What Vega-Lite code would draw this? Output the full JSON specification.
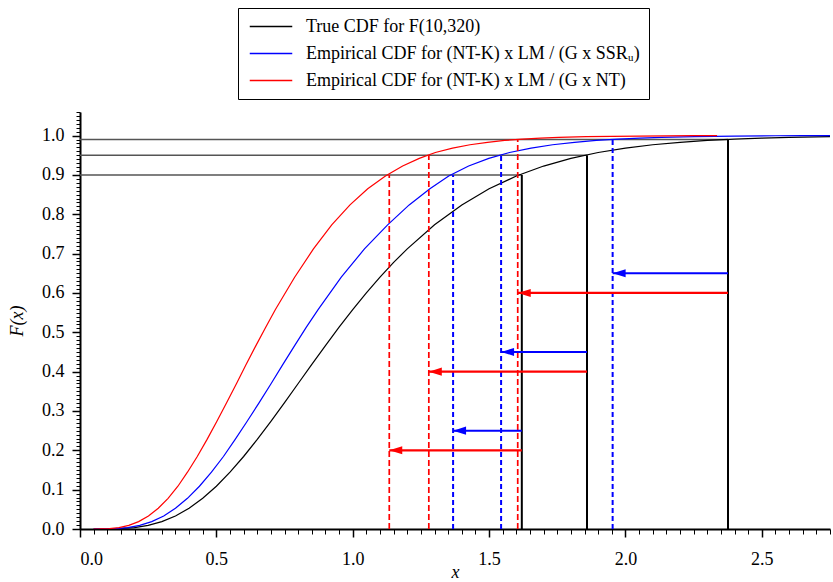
{
  "$schema": "https://vega.github.io/schema/vega-lite/v6.json",
  "width": 750,
  "height": 417,
  "autosize": {"type": "none"},
  "padding": {"left": 80, "top": 112, "right": 3, "bottom": 53},
  "background": "white",
  "config": {
    "font": "Liberation Serif",
    "view": {"stroke": null},
    "axis": {
      "grid": false,
      "domainColor": "black",
      "tickColor": "black",
      "labelColor": "black",
      "titleColor": "black",
      "labelFont": "Liberation Serif",
      "titleFont": "Liberation Serif",
      "labelFontSize": 18,
      "titleFontSize": 18,
      "titleFontWeight": "normal",
      "titleFontStyle": "italic"
    }
  },
  "datasets": {
    "curves": [
      {"s": "true", "x": 0.05, "p": 0}, {"s": "true", "x": 0.1, "p": 0.0002}, {"s": "true", "x": 0.15, "p": 0.0011}, {"s": "true", "x": 0.2, "p": 0.0037}, {"s": "true", "x": 0.25, "p": 0.0092}, {"s": "true", "x": 0.3, "p": 0.0187}, {"s": "true", "x": 0.35, "p": 0.033}, {"s": "true", "x": 0.4, "p": 0.0528}, {"s": "true", "x": 0.45, "p": 0.078}, {"s": "true", "x": 0.5, "p": 0.1087}, {"s": "true", "x": 0.55, "p": 0.1444}, {"s": "true", "x": 0.6, "p": 0.1843}, {"s": "true", "x": 0.65, "p": 0.2278}, {"s": "true", "x": 0.7, "p": 0.2738}, {"s": "true", "x": 0.75, "p": 0.3214}, {"s": "true", "x": 0.8, "p": 0.3699}, {"s": "true", "x": 0.85, "p": 0.4184}, {"s": "true", "x": 0.9, "p": 0.4662}, {"s": "true", "x": 0.95, "p": 0.513}, {"s": "true", "x": 1.0, "p": 0.5575}, {"s": "true", "x": 1.05, "p": 0.6005}, {"s": "true", "x": 1.1, "p": 0.64}, {"s": "true", "x": 1.15, "p": 0.6778}, {"s": "true", "x": 1.2, "p": 0.712}, {"s": "true", "x": 1.3, "p": 0.7732}, {"s": "true", "x": 1.4, "p": 0.8238}, {"s": "true", "x": 1.5, "p": 0.8647}, {"s": "true", "x": 1.6, "p": 0.8972}, {"s": "true", "x": 1.7, "p": 0.9226}, {"s": "true", "x": 1.8, "p": 0.9422}, {"s": "true", "x": 1.9, "p": 0.9571}, {"s": "true", "x": 2.0, "p": 0.9683}, {"s": "true", "x": 2.1, "p": 0.9767}, {"s": "true", "x": 2.2, "p": 0.983}, {"s": "true", "x": 2.3, "p": 0.9877}, {"s": "true", "x": 2.4, "p": 0.9912}, {"s": "true", "x": 2.5, "p": 0.9937}, {"s": "true", "x": 2.6, "p": 0.9955}, {"s": "true", "x": 2.75, "p": 0.9972},
      {"s": "lmu", "x": 0.05, "p": 0}, {"s": "lmu", "x": 0.088, "p": 0.0002}, {"s": "lmu", "x": 0.131, "p": 0.0011}, {"s": "lmu", "x": 0.175, "p": 0.0037}, {"s": "lmu", "x": 0.219, "p": 0.0092}, {"s": "lmu", "x": 0.263, "p": 0.0187}, {"s": "lmu", "x": 0.307, "p": 0.033}, {"s": "lmu", "x": 0.35, "p": 0.0528}, {"s": "lmu", "x": 0.394, "p": 0.078}, {"s": "lmu", "x": 0.438, "p": 0.1087}, {"s": "lmu", "x": 0.482, "p": 0.1444}, {"s": "lmu", "x": 0.526, "p": 0.1843}, {"s": "lmu", "x": 0.569, "p": 0.2278}, {"s": "lmu", "x": 0.613, "p": 0.2738}, {"s": "lmu", "x": 0.657, "p": 0.3214}, {"s": "lmu", "x": 0.701, "p": 0.3699}, {"s": "lmu", "x": 0.744, "p": 0.4184}, {"s": "lmu", "x": 0.787, "p": 0.4662}, {"s": "lmu", "x": 0.83, "p": 0.513}, {"s": "lmu", "x": 0.873, "p": 0.5575}, {"s": "lmu", "x": 0.958, "p": 0.64}, {"s": "lmu", "x": 1.043, "p": 0.712}, {"s": "lmu", "x": 1.128, "p": 0.7732}, {"s": "lmu", "x": 1.207, "p": 0.8238}, {"s": "lmu", "x": 1.283, "p": 0.8647}, {"s": "lmu", "x": 1.352, "p": 0.8972}, {"s": "lmu", "x": 1.425, "p": 0.9226}, {"s": "lmu", "x": 1.499, "p": 0.9422}, {"s": "lmu", "x": 1.575, "p": 0.9571}, {"s": "lmu", "x": 1.654, "p": 0.9683}, {"s": "lmu", "x": 1.733, "p": 0.9767}, {"s": "lmu", "x": 1.813, "p": 0.983}, {"s": "lmu", "x": 1.893, "p": 0.9877}, {"s": "lmu", "x": 1.973, "p": 0.9912}, {"s": "lmu", "x": 2.053, "p": 0.9937}, {"s": "lmu", "x": 2.132, "p": 0.9955}, {"s": "lmu", "x": 2.255, "p": 0.9972}, {"s": "lmu", "x": 2.4, "p": 0.9988}, {"s": "lmu", "x": 2.55, "p": 0.9996}, {"s": "lmu", "x": 2.65, "p": 1.0}, {"s": "lmu", "x": 2.75, "p": 1.0},
      {"s": "lmnt", "x": 0.05, "p": 0}, {"s": "lmnt", "x": 0.072, "p": 0.0002}, {"s": "lmnt", "x": 0.108, "p": 0.0011}, {"s": "lmnt", "x": 0.143, "p": 0.0037}, {"s": "lmnt", "x": 0.179, "p": 0.0092}, {"s": "lmnt", "x": 0.215, "p": 0.0187}, {"s": "lmnt", "x": 0.251, "p": 0.033}, {"s": "lmnt", "x": 0.287, "p": 0.0528}, {"s": "lmnt", "x": 0.323, "p": 0.078}, {"s": "lmnt", "x": 0.359, "p": 0.1087}, {"s": "lmnt", "x": 0.394, "p": 0.1444}, {"s": "lmnt", "x": 0.43, "p": 0.1843}, {"s": "lmnt", "x": 0.466, "p": 0.2278}, {"s": "lmnt", "x": 0.502, "p": 0.2738}, {"s": "lmnt", "x": 0.538, "p": 0.3214}, {"s": "lmnt", "x": 0.574, "p": 0.3699}, {"s": "lmnt", "x": 0.609, "p": 0.4184}, {"s": "lmnt", "x": 0.645, "p": 0.4662}, {"s": "lmnt", "x": 0.681, "p": 0.513}, {"s": "lmnt", "x": 0.716, "p": 0.5575}, {"s": "lmnt", "x": 0.787, "p": 0.64}, {"s": "lmnt", "x": 0.856, "p": 0.712}, {"s": "lmnt", "x": 0.923, "p": 0.7732}, {"s": "lmnt", "x": 0.99, "p": 0.8238}, {"s": "lmnt", "x": 1.055, "p": 0.8647}, {"s": "lmnt", "x": 1.12, "p": 0.8972}, {"s": "lmnt", "x": 1.183, "p": 0.9226}, {"s": "lmnt", "x": 1.244, "p": 0.9422}, {"s": "lmnt", "x": 1.303, "p": 0.9571}, {"s": "lmnt", "x": 1.366, "p": 0.9683}, {"s": "lmnt", "x": 1.43, "p": 0.9767}, {"s": "lmnt", "x": 1.494, "p": 0.983}, {"s": "lmnt", "x": 1.557, "p": 0.9877}, {"s": "lmnt", "x": 1.622, "p": 0.9912}, {"s": "lmnt", "x": 1.688, "p": 0.9937}, {"s": "lmnt", "x": 1.755, "p": 0.9955}, {"s": "lmnt", "x": 1.856, "p": 0.9972}, {"s": "lmnt", "x": 1.95, "p": 0.9982}, {"s": "lmnt", "x": 2.05, "p": 0.9989}, {"s": "lmnt", "x": 2.15, "p": 0.9994}, {"s": "lmnt", "x": 2.25, "p": 0.9998}, {"s": "lmnt", "x": 2.336, "p": 1.0}
    ],
    "quantiles": [
      {"s": "true", "p": 0.9, "q": 1.62, "lo": 0}, {"s": "true", "p": 0.95, "q": 1.859, "lo": 0}, {"s": "true", "p": 0.99, "q": 2.376, "lo": 0},
      {"s": "lmu", "p": 0.9, "q": 1.368, "lo": 0}, {"s": "lmu", "p": 0.95, "q": 1.544, "lo": 0}, {"s": "lmu", "p": 0.99, "q": 1.953, "lo": 0},
      {"s": "lmnt", "p": 0.9, "q": 1.134, "lo": 0}, {"s": "lmnt", "p": 0.95, "q": 1.279, "lo": 0}, {"s": "lmnt", "p": 0.99, "q": 1.605, "lo": 0}
    ],
    "arrows": [
      {"s": "lmu", "level": 0.65, "from": 2.376, "to": 1.953},
      {"s": "lmnt", "level": 0.6, "from": 2.376, "to": 1.605},
      {"s": "lmu", "level": 0.45, "from": 1.859, "to": 1.544},
      {"s": "lmnt", "level": 0.4, "from": 1.859, "to": 1.279},
      {"s": "lmu", "level": 0.25, "from": 1.62, "to": 1.368},
      {"s": "lmnt", "level": 0.2, "from": 1.62, "to": 1.134}
    ]
  },
  "resolve": {"axis": {"x": "independent", "y": "independent"}},
  "layer": [
    {
      "data": {"name": "quantiles"},
      "transform": [{"filter": "datum.s == 'true'"}],
      "mark": {"type": "rule", "color": "#555555", "strokeWidth": 1.5},
      "encoding": {
        "y": {"field": "p", "type": "quantitative", "scale": {"domain": [0, 1.06], "nice": false, "zero": false},
          "axis": {"orient": "left", "values": [0,0.01,0.02,0.03,0.04,0.05,0.06,0.07,0.08,0.09,0.1,0.11,0.12,0.13,0.14,0.15,0.16,0.17,0.18,0.19,0.2,0.21,0.22,0.23,0.24,0.25,0.26,0.27,0.28,0.29,0.3,0.31,0.32,0.33,0.34,0.35,0.36,0.37,0.38,0.39,0.4,0.41,0.42,0.43,0.44,0.45,0.46,0.47,0.48,0.49,0.5,0.51,0.52,0.53,0.54,0.55,0.56,0.57,0.58,0.59,0.6,0.61,0.62,0.63,0.64,0.65,0.66,0.67,0.68,0.69,0.7,0.71,0.72,0.73,0.74,0.75,0.76,0.77,0.78,0.79,0.8,0.81,0.82,0.83,0.84,0.85,0.86,0.87,0.88,0.89,0.9,0.91,0.92,0.93,0.94,0.95,0.96,0.97,0.98,0.99,1.0,1.01,1.02,1.03,1.04,1.05,1.06], "labels": false, "domain": false, "tickSize": 4, "tickWidth": 1, "title": null}},
        "x": {"field": "lo", "type": "quantitative", "scale": {"domain": [0, 2.75], "nice": false, "zero": false}, "axis": null},
        "x2": {"field": "q"}
      }
    },
    {
      "data": {"name": "curves"},
      "mark": {"type": "line", "strokeWidth": 1.2, "clip": true},
      "encoding": {
        "x": {"field": "x", "type": "quantitative", "scale": {"domain": [0, 2.75], "nice": false, "zero": false},
          "axis": {"orient": "bottom", "values": [0, 0.5, 1, 1.5, 2, 2.5], "format": ".1f", "title": "x", "labelFont": "Liberation Serif", "titleFont": "Liberation Serif", "labelFontSize": 18, "tickSize": 8, "tickWidth": 1.5, "domainWidth": 2, "labelPadding": 13, "titlePadding": 9, "titleBaseline": "alphabetic"}},
        "y": {"field": "p", "type": "quantitative", "scale": {"domain": [0, 1.06], "nice": false, "zero": false},
          "axis": {"orient": "left", "values": [0, 0.1, 0.2, 0.3, 0.4, 0.5, 0.6, 0.7, 0.8, 0.9, 1.0], "format": ".1f", "title": "F(x)", "labelFont": "Liberation Serif", "titleFont": "Liberation Serif", "labelFontSize": 18, "tickSize": 8, "tickWidth": 1.5, "domainWidth": 2, "labelPadding": 8, "titlePadding": 15}},
        "color": {"field": "s", "type": "nominal",
          "scale": {"domain": ["true", "lmu", "lmnt"], "range": ["#000000", "#0000ff", "#ff0000"]},
          "legend": {
            "orient": "none", "legendX": 158, "legendY": -104, "title": null,
            "symbolType": "M-2.5,0H2.5", "symbolSize": 289, "symbolStrokeWidth": 1.5, "symbolOffset": 14.5,
            "labelFont": "Liberation Serif", "labelFontSize": 18, "labelColor": "black", "labelLimit": 0, "labelOffset": 25.5,
            "padding": 9, "rowPadding": 8, "strokeColor": "black", "fillColor": "white",
            "labelExpr": "datum.value == 'true' ? 'True CDF for F(10,320)' : datum.value == 'lmu' ? 'Empirical CDF for (NT-K) x LM / (G x SSRᵤ)' : 'Empirical CDF for (NT-K) x LM / (G x NT)'"
          }}
      }
    },
    {
      "data": {"name": "quantiles"},
      "transform": [{"filter": "datum.s == 'true'"}],
      "mark": {"type": "rule", "color": "black", "strokeWidth": 2},
      "encoding": {
        "x": {"field": "q", "type": "quantitative", "scale": {"domain": [0, 2.75], "nice": false, "zero": false},
          "axis": {"orient": "bottom", "values": [0,0.05,0.1,0.15,0.2,0.25,0.3,0.35,0.4,0.45,0.5,0.55,0.6,0.65,0.7,0.75,0.8,0.85,0.9,0.95,1.0,1.05,1.1,1.15,1.2,1.25,1.3,1.35,1.4,1.45,1.5,1.55,1.6,1.65,1.7,1.75,1.8,1.85,1.9,1.95,2.0,2.05,2.1,2.15,2.2,2.25,2.3,2.35,2.4,2.45,2.5,2.55,2.6,2.65,2.7,2.75], "labels": false, "domain": false, "tickSize": 5, "tickWidth": 1, "title": null}},
        "y": {"field": "lo", "type": "quantitative", "scale": {"domain": [0, 1.06], "nice": false, "zero": false}, "axis": null},
        "y2": {"field": "p"}
      }
    },
    {
      "data": {"name": "quantiles"},
      "transform": [{"filter": "datum.s == 'lmu'"}],
      "mark": {"type": "rule", "color": "#0000ff", "strokeWidth": 2, "strokeDash": [5, 3]},
      "encoding": {
        "x": {"field": "q", "type": "quantitative", "scale": {"domain": [0, 2.75], "nice": false, "zero": false}, "axis": null},
        "y": {"field": "lo", "type": "quantitative", "scale": {"domain": [0, 1.06], "nice": false, "zero": false}, "axis": null},
        "y2": {"field": "p"}
      }
    },
    {
      "data": {"name": "quantiles"},
      "transform": [{"filter": "datum.s == 'lmnt'"}],
      "mark": {"type": "rule", "color": "#ff0000", "strokeWidth": 1.7, "strokeDash": [6, 3]},
      "encoding": {
        "x": {"field": "q", "type": "quantitative", "scale": {"domain": [0, 2.75], "nice": false, "zero": false}, "axis": null},
        "y": {"field": "lo", "type": "quantitative", "scale": {"domain": [0, 1.06], "nice": false, "zero": false}, "axis": null},
        "y2": {"field": "p"}
      }
    },
    {
      "data": {"name": "arrows"},
      "transform": [{"filter": "datum.s == 'lmu'"}],
      "mark": {"type": "rule", "color": "#0000ff", "strokeWidth": 2},
      "encoding": {
        "x": {"field": "from", "type": "quantitative", "scale": {"domain": [0, 2.75], "nice": false, "zero": false}, "axis": null},
        "x2": {"field": "to"},
        "y": {"field": "level", "type": "quantitative", "scale": {"domain": [0, 1.06], "nice": false, "zero": false}, "axis": null}
      }
    },
    {
      "data": {"name": "arrows"},
      "transform": [{"filter": "datum.s == 'lmnt'"}],
      "mark": {"type": "rule", "color": "#ff0000", "strokeWidth": 2.2},
      "encoding": {
        "x": {"field": "from", "type": "quantitative", "scale": {"domain": [0, 2.75], "nice": false, "zero": false}, "axis": null},
        "x2": {"field": "to"},
        "y": {"field": "level", "type": "quantitative", "scale": {"domain": [0, 1.06], "nice": false, "zero": false}, "axis": null}
      }
    },
    {
      "data": {"name": "arrows"},
      "transform": [{"filter": "datum.s == 'lmu'"}],
      "mark": {"type": "point", "shape": "M-1,0L1,-0.62L1,0.62Z", "size": 169, "filled": true, "opacity": 1, "color": "#0000ff", "strokeWidth": 0, "xOffset": 6.5},
      "encoding": {
        "x": {"field": "to", "type": "quantitative", "scale": {"domain": [0, 2.75], "nice": false, "zero": false}, "axis": null},
        "y": {"field": "level", "type": "quantitative", "scale": {"domain": [0, 1.06], "nice": false, "zero": false}, "axis": null}
      }
    },
    {
      "data": {"name": "arrows"},
      "transform": [{"filter": "datum.s == 'lmnt'"}],
      "mark": {"type": "point", "shape": "M-1,0L1,-0.62L1,0.62Z", "size": 169, "filled": true, "opacity": 1, "color": "#ff0000", "strokeWidth": 0, "xOffset": 6.5},
      "encoding": {
        "x": {"field": "to", "type": "quantitative", "scale": {"domain": [0, 2.75], "nice": false, "zero": false}, "axis": null},
        "y": {"field": "level", "type": "quantitative", "scale": {"domain": [0, 1.06], "nice": false, "zero": false}, "axis": null}
      }
    }
  ]
}
